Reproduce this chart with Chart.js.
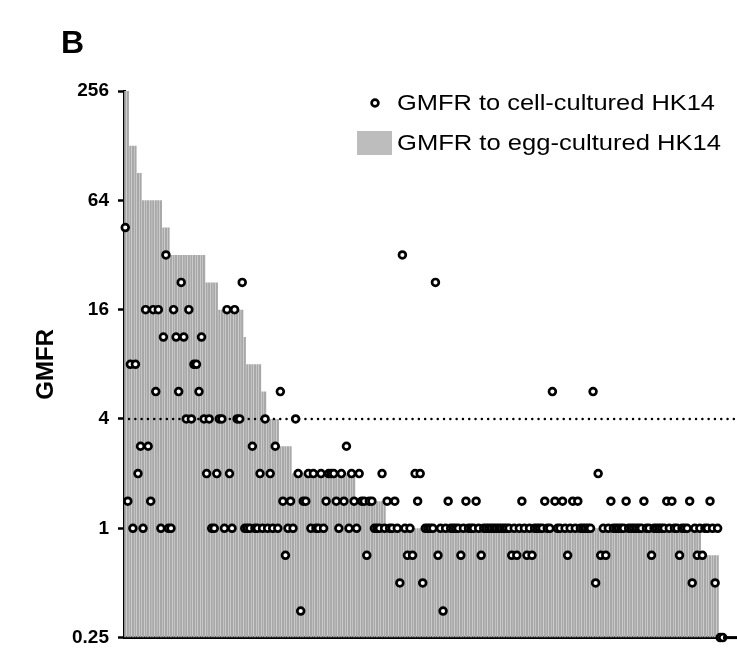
<!DOCTYPE html>
<html>
<head>
<meta charset="utf-8">
<script src="https://cdn.jsdelivr.net/npm/chart.js@4.4.1/dist/chart.umd.min.js"></script>
<style>
  html, body { margin: 0; padding: 0; background: #fff; }
</style>
</head>
<body>
<canvas id="gmfrChart" width="737" height="658"></canvas>
<script>
// GMFR to egg-cultured HK14 (bars), sorted high to low: step value + number of subjects
const eggSteps  = [256, 128, 90.5, 64, 45.3, 32, 22.6, 16, 11.3, 8, 5.66, 4, 2.83, 2, 1.41, 1, 0.71, 0.25];
const eggCounts = [2,   3,   2,    8,  3,    14, 5,    10, 1,    6, 2,    5, 5,    25, 12,  124, 7,  2];

// GMFR to cell-cultured HK14 (circles), same subject order as the bars
const cellGmfr = [
  45.3, 1.41, 8, 1, 8, 2, 2.83, 1, 16, 2.83, 1.41, 16, 5.66, 16, 1, 11.3, 32, 1, 1, 16,
  11.3, 5.66, 22.6, 11.3, 4, 16, 4, 8, 8, 5.66, 11.3, 4, 2, 4, 1, 1, 2, 4, 4, 1,
  16, 2, 1, 16, 4, 4, 22.6, 1, 1, 1, 2.83, 1, 1, 2, 1, 4, 1, 2, 1, 2.83,
  1, 5.66, 1.41, 0.71, 1, 1.41, 1, 4, 2, 0.35, 1.41, 1.41, 2, 1, 2, 1, 1, 2, 1, 1.41,
  2, 2, 2, 1.41, 1, 2, 1.41, 2.83, 1, 2, 1.41, 1, 2, 1.41, 1.41, 0.71, 1.41, 1.41, 1, 1,
  1, 2, 1, 1.41, 1, 1, 1.41, 1, 0.5, 32, 1, 0.71, 1, 0.71, 2, 1.41, 2, 0.5, 1, 1,
  1, 1, 22.6, 0.71, 1, 0.35, 1, 1.41, 1, 1, 1, 1, 0.71, 1, 1.41, 1, 1, 1, 1.41, 1,
  0.71, 1, 1, 1, 1, 1, 1, 1, 1, 1, 1, 1, 0.71, 1, 0.71, 1, 1.41, 1, 0.71, 1,
  0.71, 1, 1, 1, 1, 1.41, 1, 1, 5.66, 1.41, 1, 1, 1.41, 1, 0.71, 1, 1.41, 1, 1.41, 1,
  1, 1, 1, 1, 5.66, 0.5, 2, 0.71, 1, 0.71, 1, 1.41, 1, 1, 1, 1, 1, 1.41, 1, 1,
  1, 1, 1, 1, 1.41, 1, 1, 0.71, 1, 1, 1, 1, 1, 1.41, 1, 1.41, 1, 1, 0.71, 1,
  1, 1, 1.41, 0.5, 1, 0.71, 1, 0.71, 1, 1, 1.41, 1, 0.5, 1, 0.25, 0.25
];

const yTicks = [0.25, 1, 4, 16, 64, 256];
const cutoff = 4;

// expand the bar steps into one value per subject
const eggGmfr = [];
eggSteps.forEach((v, i) => {
    for (let k = 0; k < eggCounts[i]; k++) eggGmfr.push(v);
});
const subjects = cellGmfr.map((_, i) => i + 1);

const FONT = '"Liberation Sans", Arial, sans-serif';

// dotted 4-fold line, drawn over the bars but under the circles
const cutoffLine = {
    id: 'cutoffLine',
    afterDatasetDraw(chart, args) {
        if (args.meta.type !== 'bar') return;
        const ctx = chart.ctx;
        const y = chart.scales.y.getPixelForValue(cutoff);
        ctx.save();
        ctx.strokeStyle = '#000';
        ctx.lineWidth = 2.4;
        ctx.lineCap = 'round';
        ctx.setLineDash([0.1, 6.2]);
        ctx.beginPath();
        ctx.moveTo(chart.chartArea.left + 5, y);
        ctx.lineTo(737, y);
        ctx.stroke();
        ctx.restore();
    }
};

// legend text is drawn a little wide, as in the original figure
function wideText(ctx, text, x, y, width) {
    const w = ctx.measureText(text).width;
    ctx.save();
    ctx.translate(x, y);
    ctx.scale(width / w, 1);
    ctx.fillText(text, 0, 0);
    ctx.restore();
}

// panel letter, legend and the axis line running past the last bar
const decorations = {
    id: 'decorations',
    afterDraw(chart) {
        const ctx = chart.ctx;
        const area = chart.chartArea;
        ctx.save();

        ctx.strokeStyle = '#000';
        ctx.lineWidth = 3;
        ctx.beginPath();
        ctx.moveTo(area.right - 1, area.bottom);
        ctx.lineTo(737, area.bottom);
        ctx.stroke();

        ctx.fillStyle = '#000';
        ctx.font = 'bold 32px ' + FONT;
        ctx.textBaseline = 'alphabetic';
        ctx.fillText('B', 61, 53);

        ctx.font = '22px ' + FONT;
        ctx.textBaseline = 'middle';
        // circle entry
        ctx.beginPath();
        ctx.arc(375, 103, 3.4, 0, Math.PI * 2);
        ctx.fillStyle = '#fff';
        ctx.fill();
        ctx.lineWidth = 2.7;
        ctx.strokeStyle = '#000';
        ctx.stroke();
        ctx.fillStyle = '#000';
        wideText(ctx, 'GMFR to cell-cultured HK14', 397, 104, 318);
        // bar entry
        ctx.fillStyle = '#bdbdbd';
        ctx.fillRect(357, 131, 35, 24);
        ctx.fillStyle = '#000';
        wideText(ctx, 'GMFR to egg-cultured HK14', 397, 144, 324);

        ctx.restore();
    }
};

new Chart(document.getElementById('gmfrChart'), {
    type: 'bar',
    data: {
        labels: subjects,
        datasets: [
            {
                type: 'line',
                label: 'GMFR to cell-cultured HK14',
                data: cellGmfr,
                showLine: false,
                pointStyle: 'circle',
                pointRadius: 3.4,
                pointHoverRadius: 3.4,
                pointBorderWidth: 2.7,
                pointBorderColor: '#000',
                pointBackgroundColor: '#fff',
                clip: false,
                order: 0
            },
            {
                type: 'bar',
                label: 'GMFR to egg-cultured HK14',
                data: eggGmfr,
                backgroundColor: '#a8a8a8',
                barPercentage: 0.88,
                categoryPercentage: 1,
                order: 1
            }
        ]
    },
    options: {
        responsive: false,
        animation: false,
        layout: { padding: { top: 91, right: 13, bottom: 0, left: 0 } },
        plugins: {
            legend: { display: false },
            tooltip: { enabled: false }
        },
        scales: {
            x: {
                grid: { display: false },
                ticks: { display: false },
                border: { display: true, color: '#000', width: 3 },
                afterFit: s => { s.height = 17; }
            },
            y: {
                type: 'logarithmic',
                min: 0.25,
                max: 256,
                afterBuildTicks: s => { s.ticks = yTicks.map(v => ({ value: v })); },
                ticks: {
                    autoSkip: false,
                    color: '#000',
                    padding: 9,
                    font: { family: FONT, size: 19, weight: 'bold' },
                    callback: v => String(v)
                },
                grid: { drawOnChartArea: false, tickLength: 6, tickWidth: 2.5, tickColor: '#000' },
                border: { display: true, color: '#000', width: 3 },
                title: {
                    display: true,
                    text: 'GMFR',
                    color: '#000',
                    font: { family: FONT, size: 24, weight: 'bold' },
                    padding: { top: 32, bottom: 0 }
                },
                afterFit: s => { s.width = 124; }
            }
        }
    },
    plugins: [cutoffLine, decorations]
});
</script>
</body>
</html>
